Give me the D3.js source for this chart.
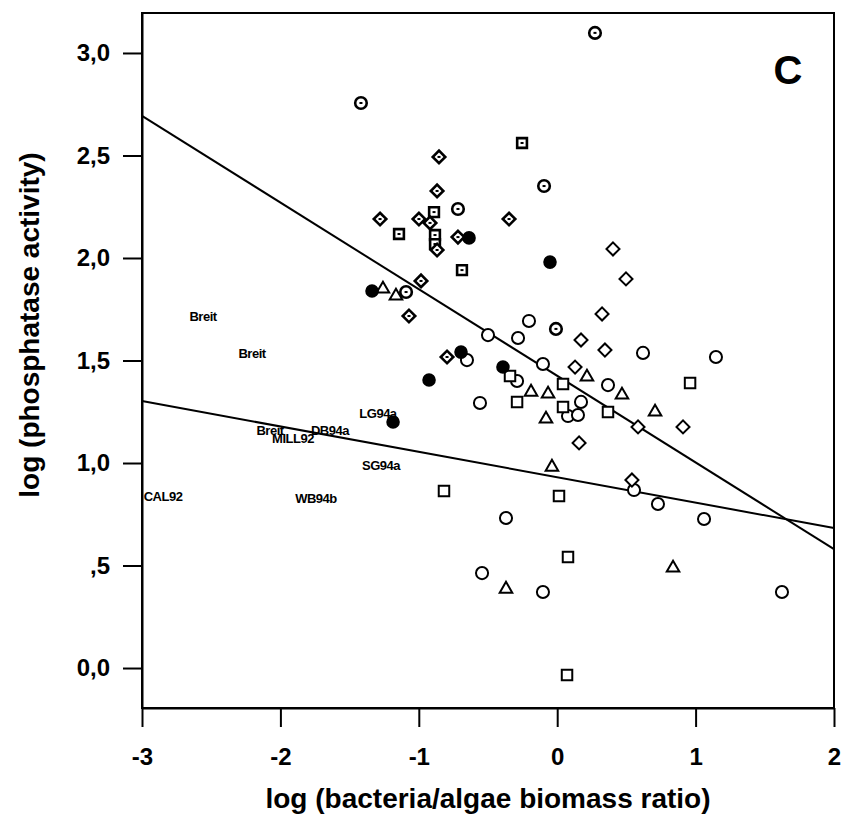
<!DOCTYPE html>
<html>
<head>
<meta charset="utf-8">
<script src="https://cdn.jsdelivr.net/npm/d3@7"></script>
<style>
  body { margin: 0; background: #fff; }
  svg { display: block; font-family: "Liberation Sans", Arial, sans-serif; }
</style>
</head>
<body>
<div id="chart"></div>
<script>
// points, [log ratio, log activity]
const openCircles = [
    [-0.204, 1.693], [-0.500, 1.624], [-0.283, 1.610], [0.620, 1.537], [1.147, 1.517],
    [-0.652, 1.502], [-0.103, 1.483], [-0.290, 1.400], [0.367, 1.380], [-0.558, 1.293],
    [0.172, 1.298], [0.078, 1.229], [0.150, 1.234], [0.555, 0.868], [-0.370, 0.732],
    [0.728, 0.800], [1.061, 0.727], [-0.543, 0.463], [-0.103, 0.371], [1.624, 0.371]
];
const dotCircles = [
    [-1.418, 2.756], [-0.717, 2.239], [0.273, 3.098], [-0.095, 2.351], [-1.092, 1.834], [-0.009, 1.654]
];
const filledCircles = [
    [-1.338, 1.839], [-0.637, 2.098], [-0.052, 1.980], [-0.695, 1.541],
    [-0.392, 1.468], [-0.926, 1.405], [-1.186, 1.200]
];
const openSquares = [
    [-0.341, 1.424], [0.042, 1.385], [0.960, 1.390], [-0.290, 1.298], [0.042, 1.273],
    [0.367, 1.249], [0.013, 0.839], [-0.818, 0.863], [0.078, 0.541], [0.071, -0.034]
];
const dotSquares = [
    [-0.890, 2.224], [-1.143, 2.117], [-0.883, 2.112], [-0.883, 2.068], [-0.254, 2.561], [-0.688, 1.941]
];
const openDiamonds = [
    [0.403, 2.044], [0.497, 1.898], [0.324, 1.727], [0.172, 1.600], [0.345, 1.551],
    [0.129, 1.468], [0.584, 1.176], [0.909, 1.176], [0.158, 1.098], [0.540, 0.917]
];
const dotDiamonds = [
    [-0.854, 2.493], [-0.868, 2.327], [-1.280, 2.190], [-0.999, 2.190], [-0.919, 2.171],
    [-0.717, 2.102], [-0.348, 2.190], [-0.868, 2.039], [-0.984, 1.888], [-1.071, 1.717], [-0.796, 1.517]
];
const openTriangles = [
    [-1.259, 1.849], [-1.165, 1.815], [0.215, 1.420], [-0.189, 1.346], [-0.066, 1.337],
    [0.468, 1.332], [0.707, 1.249], [-0.081, 1.215], [-0.038, 0.980], [0.837, 0.488], [-0.370, 0.385]
];
const siteNames = ["Breit", "Breit", "Breit", "MILL92", "DB94a", "LG94a", "SG94a", "CAL92", "WB94b"];
const siteX = [-2.559, -2.205, -2.075, -1.909, -1.642, -1.295, -1.273, -2.848, -1.743];
const siteY = [1.717, 1.532, 1.161, 1.122, 1.161, 1.244, 0.990, 0.839, 0.829];

const steepLine = [[-3, 2.693], [2, 0.580]];
const shallowLine = [[-3, 1.302], [2, 0.683]];

const xTicks = [-3, -2, -1, 0, 1, 2];
const yTicks = [0, 0.5, 1, 1.5, 2, 2.5, 3];
const yTickLabels = ["0,0", ",5", "1,0", "1,5", "2,0", "2,5", "3,0"];

const width = 842, height = 829;
const plotLeft = 142, plotRight = 834, plotTop = 13, plotBottom = 708;

const svg = d3.select("#chart").append("svg")
    .attr("width", width)
    .attr("height", height);

const x = d3.scaleLinear().domain([-3, 2]).range([plotLeft, plotRight]);
const y = d3.scaleLinear().domain([-0.195, 3.195]).range([plotBottom, plotTop]);

// frame
svg.append("rect")
    .attr("x", plotLeft).attr("y", plotTop)
    .attr("width", plotRight - plotLeft).attr("height", plotBottom - plotTop)
    .attr("fill", "none").attr("stroke", "#000").attr("stroke-width", 2);

const yAxis = svg.append("g")
    .attr("transform", `translate(${plotLeft},0)`)
    .call(d3.axisLeft(y).tickValues(yTicks).tickSize(19).tickSizeOuter(0).tickPadding(13)
        .tickFormat((d, i) => yTickLabels[i]));

const xAxis = svg.append("g")
    .attr("transform", `translate(0,${plotBottom})`)
    .call(d3.axisBottom(x).tickValues(xTicks).tickSize(19).tickSizeOuter(0).tickPadding(21)
        .tickFormat(d => String(d)));

[xAxis, yAxis].forEach(g => {
    g.select(".domain").attr("stroke-width", 2);
    g.selectAll(".tick line").attr("stroke-width", 2);
    g.selectAll(".tick text")
        .attr("font-family", "Liberation Sans, Arial, sans-serif")
        .attr("font-weight", "bold")
        .attr("font-size", 24)
        .attr("fill", "#000");
});

// regression lines
const line = d3.line().x(d => x(d[0])).y(d => y(d[1]));
[steepLine, shallowLine].forEach(l => {
    svg.append("path")
        .attr("d", line(l))
        .attr("fill", "none")
        .attr("stroke", "#000")
        .attr("stroke-width", 2);
});

const marks = svg.append("g");

function drawSymbol(data, type, size, fill, dotted, rot) {
    let g = marks.append("g");
    g.selectAll("path")
        .data(data)
        .join("path")
        .attr("transform", d => `translate(${x(d[0])},${y(d[1])}) rotate(${rot || 0})`)
        .attr("d", d3.symbol().type(type).size(size))
        .attr("fill", fill)
        .attr("stroke", "#000")
        .attr("stroke-width", dotted ? 2.6 : 2);
    if (dotted) {
        g.selectAll("rect")
            .data(data)
            .join("rect")
            .attr("x", d => x(d[0]) - 1.5)
            .attr("y", d => y(d[1]) - 1)
            .attr("width", 3)
            .attr("height", 2)
            .attr("fill", "#000");
    }
}

drawSymbol(openCircles, d3.symbolCircle, 115, "#fff", false);
drawSymbol(dotCircles, d3.symbolCircle, 105, "#fff", true);
drawSymbol(openSquares, d3.symbolSquare, 110, "#fff", false);
drawSymbol(dotSquares, d3.symbolSquare, 95, "#fff", true);
drawSymbol(openTriangles, d3.symbolTriangle, 68, "#fff", false);
drawSymbol(filledCircles, d3.symbolCircle, 105, "#000", false);
drawSymbol(openDiamonds, d3.symbolSquare, 85, "#fff", false, 45);
drawSymbol(dotDiamonds, d3.symbolSquare, 78, "#fff", true, 45);

// site labels
svg.append("g")
    .selectAll("text")
    .data(siteNames)
    .join("text")
    .attr("x", (d, i) => x(siteX[i]))
    .attr("y", (d, i) => y(siteY[i]))
    .attr("dy", "0.35em")
    .attr("text-anchor", "middle")
    .attr("font-size", 13)
    .attr("font-weight", "bold")
    .attr("letter-spacing", -0.5)
    .text(d => d);

// panel letter
svg.append("text")
    .attr("x", 788)
    .attr("y", 84)
    .attr("text-anchor", "middle")
    .attr("font-size", 40)
    .attr("font-weight", "bold")
    .text("C");

// axis titles
svg.append("text")
    .attr("x", (plotLeft + plotRight) / 2)
    .attr("y", 808)
    .attr("text-anchor", "middle")
    .attr("font-size", 28)
    .attr("font-weight", "bold")
    .text("log (bacteria/algae biomass ratio)");

svg.append("text")
    .attr("transform", "translate(39,325) rotate(-90)")
    .attr("text-anchor", "middle")
    .attr("font-size", 28)
    .attr("font-weight", "bold")
    .text("log (phosphatase activity)");
</script>
</body>
</html>
